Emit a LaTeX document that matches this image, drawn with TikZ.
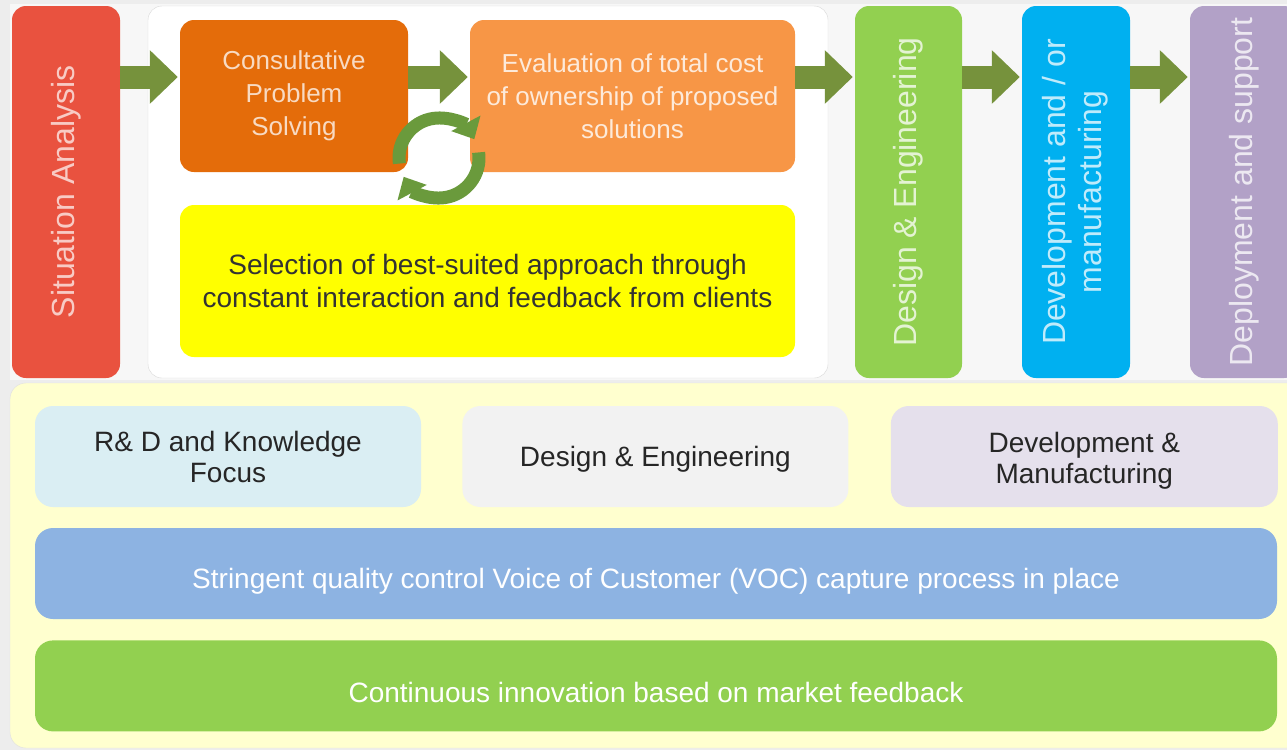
\documentclass[tikz,border=0pt]{standalone}
\usepackage{fontspec}
\setmainfont{Liberation Sans}
\usetikzlibrary{positioning,arrows.meta}

\definecolor{sitred}{HTML}{E9523F}
\definecolor{cpsorange}{HTML}{E46C0A}
\definecolor{evalorange}{HTML}{F79646}
\definecolor{selyellow}{HTML}{FFFF00}
\definecolor{desgreen}{HTML}{92D050}
\definecolor{devblue}{HTML}{00B0F0}
\definecolor{deppurple}{HTML}{B2A1C7}
\definecolor{arrowolive}{HTML}{76923C}
\definecolor{cycgreen}{HTML}{6A9A3C}
\definecolor{panelyellow}{HTML}{FFFFCF}
\definecolor{rdblue}{HTML}{DAEEF3}
\definecolor{degray}{HTML}{F2F2F2}
\definecolor{dmlilac}{HTML}{E5E0EC}
\definecolor{vocblue}{HTML}{8DB3E2}
\definecolor{bggray}{HTML}{EDEDED}

\newcommand{\lowtext}[2]{\raisebox{-#1}[\height][\depth]{#2}}

\tikzset{
  box/.style={rounded corners=14pt, inner sep=0pt, align=center},
  vstage/.style={box, minimum width=108pt, minimum height=372pt, font=\fontsize{32}{36}\selectfont},
  substage/.style={box, minimum height=152pt, font=\fontsize{26}{33}\selectfont},
  focusbox/.style={box, rounded corners=18pt, minimum width=386pt, minimum height=101pt, text=black!85, font=\fontsize{28}{31}\selectfont},
  basebar/.style={box, rounded corners=18pt, minimum width=1242pt, minimum height=91pt, text=white, font=\fontsize{28}{31}\selectfont},
  flow/.style={arrowolive, line width=23pt, shorten >=2pt, -{Triangle[width=52pt,length=28pt]}},
  cyc/.style={cycgreen, line width=13pt, -{Triangle[width=32pt,length=18pt]}}
}

\begin{document}
\begin{tikzpicture}[x=1pt,y=-1pt]
    \useasboundingbox (0,0) rectangle (1287,750);
    \fill[bggray] (0,0) rectangle (1287,750);
    \fill[white!97!black] (10,4) rectangle (1287,380);

    \node[box, draw=black!15, fill=white, minimum width=680pt, minimum height=372pt] (grp) at (488,192) {};

    \node[vstage, fill=sitred, text=sitred!30!white] (sit) at (66,192) {\rotatebox{90}{Situation Analysis}};
    \node[vstage, fill=desgreen, text=desgreen!25!white, minimum width=107pt] (des) at (908.5,192) {\rotatebox{90}{Design \& Engineering}};
    \node[vstage, fill=devblue, text=devblue!25!white] (dev) at (1076,192)
        {\rotatebox{90}{\begin{tabular}{@{}c@{}}Development and / or\\manufacturing\end{tabular}}};
    \node[vstage, fill=deppurple, text=deppurple!25!white] (dep) at (1244,192) {\rotatebox{90}{Deployment and support}};

    \node[substage, fill=cpsorange, text=cpsorange!25!white, minimum width=228pt] (cps) at (294,96)
        {Consultative\\Problem\\Solving};
    \node[substage, fill=evalorange, text=evalorange!20!white, minimum width=325pt] (eval) at (632.5,96)
        {Evaluation of total cost\\of ownership of proposed\\solutions};
    \node[substage, fill=selyellow, text=black!80, minimum width=615pt, font=\fontsize{28}{33}\selectfont] (sel) at (487.5,281)
        {Selection of best-suited approach through\\constant interaction and feedback from clients};

    \foreach \a/\b in {sit/cps, cps/eval, eval/des, des/dev, dev/dep}
        \draw[flow] (\a.east |- 0,77) -- (\b.west |- 0,77);

    \coordinate (loop) at (439,158);
    \draw[cyc] ([shift={(188:40pt)}]loop) arc[start angle=188, end angle=28, radius=40pt];
    \draw[cyc] ([shift={(8:40pt)}]loop) arc[start angle=8, end angle=-152, radius=40pt];

    \node[box, rounded corners=16pt, draw=black!12, fill=panelyellow, minimum width=1300pt, minimum height=365pt] (panel) at (660,565.5) {};

    \node[focusbox, fill=rdblue] (rd) at (228,456.5) {R\& D and Knowledge\\Focus};
    \node[focusbox, fill=degray, right=41pt of rd] (de) {\lowtext{3pt}{Design \& Engineering}};
    \node[focusbox, fill=dmlilac, right=42pt of de, minimum width=387pt] (dm)
        {\lowtext{5pt}{\begin{tabular}{@{}c@{}}Development \&\\Manufacturing\end{tabular}}};
    \node[basebar, fill=vocblue] (voc) at (656,573.5)
        {\lowtext{8pt}{Stringent quality control Voice of Customer (VOC) capture process in place}};
    \node[basebar, fill=desgreen, below=21pt of voc] (inno) {\lowtext{7pt}{Continuous innovation based on market feedback}};
\end{tikzpicture}
\end{document}
